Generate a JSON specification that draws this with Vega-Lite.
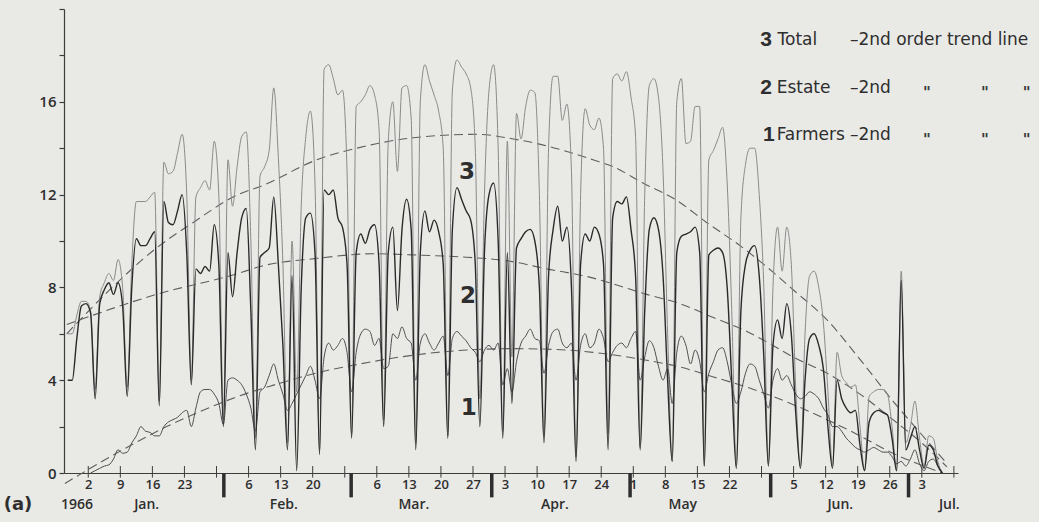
{
  "$schema": "https://vega.github.io/schema/vega-lite/v6.json",
  "width": 894,
  "height": 464,
  "autosize": {"type": "none"},
  "padding": {"left": 64, "top": 9, "right": 81, "bottom": 49},
  "background": "#e9e9e6",
  "config": {"view": {"stroke": null}, "font": "DejaVu Sans"},
  "resolve": {"axis": {"x": "independent", "y": "independent"}},
  "datasets": {
    "daily": [
      {"d":-3,"t":6.0,"e":4.0},{"d":-2,"t":6.0,"e":4.0},{"d":-1,"t":6.8,"e":5.8},{"d":0,"t":7.4,"e":7.2},{"d":1,"t":7.4,"e":7.3},
      {"d":2,"t":7.0,"e":6.9,"f":0.0},{"d":3,"t":3.6,"e":3.2,"f":0.1},{"d":4,"t":7.6,"e":7.3,"f":0.2},{"d":5,"t":8.2,"e":7.9,"f":0.3},{"d":6,"t":8.6,"e":8.2,"f":0.35},{"d":7,"t":8.3,"e":7.7,"f":0.6},{"d":8,"t":9.2,"e":8.2,"f":1.0},{"d":9,"t":8.0,"e":7.2,"f":0.85},
      {"d":10,"t":3.7,"e":3.3,"f":0.9},{"d":11,"t":9.0,"e":8.0,"f":1.3},{"d":12,"t":11.7,"e":10.1,"f":1.6},{"d":13,"t":11.7,"e":9.8,"f":2.0},{"d":14,"t":11.7,"e":9.8,"f":1.8},{"d":15,"t":11.9,"e":10.1,"f":1.75},{"d":16,"t":12.1,"e":10.4,"f":1.6},
      {"d":17,"t":3.1,"e":2.9,"f":1.6},{"d":18,"t":13.4,"e":11.7,"f":2.0},{"d":19,"t":12.9,"e":10.8,"f":2.2},{"d":20,"t":13.0,"e":10.7,"f":2.3},{"d":21,"t":13.8,"e":11.3,"f":2.4},{"d":22,"t":14.6,"e":12.0,"f":2.6},{"d":23,"t":12.0,"e":9.5,"f":2.7},
      {"d":24,"t":4.0,"e":3.8,"f":2.0},{"d":25,"t":11.9,"e":8.8,"f":2.8},{"d":26,"t":12.3,"e":8.6,"f":3.5},{"d":27,"t":12.6,"e":8.9,"f":3.6},{"d":28,"t":12.2,"e":8.7,"f":3.6},{"d":29,"t":14.3,"e":10.7,"f":3.4},{"d":30,"t":12.0,"e":9.0,"f":3.0},
      {"d":31,"t":2.3,"e":2.0,"f":2.1},{"d":32,"t":13.5,"e":9.5,"f":4.0},{"d":33,"t":11.5,"e":7.6,"f":4.1},{"d":34,"t":13.2,"e":9.5,"f":4.0},{"d":35,"t":14.5,"e":11.0,"f":3.8},{"d":36,"t":14.7,"e":11.4,"f":3.4},{"d":37,"t":10.0,"e":7.0,"f":2.8},
      {"d":38,"t":1.5,"e":1.0,"f":1.8},{"d":39,"t":12.8,"e":9.3,"f":3.5},{"d":40,"t":13.2,"e":9.5,"f":3.7},{"d":41,"t":13.9,"e":9.7,"f":4.2},{"d":42,"t":16.6,"e":11.9,"f":4.7},{"d":43,"t":13.6,"e":9.0,"f":4.0},{"d":44,"t":9.0,"e":5.5,"f":3.4},
      {"d":45,"t":1.3,"e":1.0,"f":2.7},{"d":46,"t":10.0,"e":8.5,"f":3.0},{"d":47,"t":3.5,"e":0.1,"f":3.4},{"d":48,"t":11.5,"e":8.0,"f":3.8},{"d":49,"t":14.5,"e":11.0,"f":4.2},{"d":50,"t":15.6,"e":11.2,"f":4.6},{"d":51,"t":12.5,"e":9.5,"f":4.0},
      {"d":52,"t":1.0,"e":0.8,"f":3.2},{"d":53,"t":17.4,"e":12.2,"f":5.0},{"d":54,"t":17.6,"e":12.0,"f":5.6},{"d":55,"t":17.0,"e":12.2,"f":5.3},{"d":56,"t":16.3,"e":11.0,"f":5.5},{"d":57,"t":16.5,"e":10.6,"f":5.8},{"d":58,"t":13.0,"e":9.0,"f":5.2},
      {"d":59,"t":1.7,"e":1.5,"f":3.5},{"d":60,"t":15.8,"e":9.5,"f":5.2},{"d":61,"t":16.0,"e":10.3,"f":6.0},{"d":62,"t":16.3,"e":9.9,"f":6.2},{"d":63,"t":16.7,"e":10.5,"f":6.1},{"d":64,"t":16.3,"e":10.7,"f":5.5},{"d":65,"t":14.8,"e":9.0,"f":5.8},
      {"d":66,"t":2.3,"e":2.0,"f":4.5},{"d":67,"t":14.3,"e":9.5,"f":4.6},{"d":68,"t":16.0,"e":10.6,"f":6.0},{"d":69,"t":13.0,"e":7.0,"f":5.8},{"d":70,"t":16.6,"e":10.5,"f":6.3},{"d":71,"t":16.7,"e":11.8,"f":5.8},{"d":72,"t":15.3,"e":10.5,"f":5.6},
      {"d":73,"t":1.3,"e":1.0,"f":4.0},{"d":74,"t":16.0,"e":9.5,"f":5.6},{"d":75,"t":17.6,"e":11.3,"f":6.0},{"d":76,"t":16.9,"e":10.4,"f":5.6},{"d":77,"t":16.3,"e":10.9,"f":5.3},{"d":78,"t":15.6,"e":10.4,"f":5.6},{"d":79,"t":14.0,"e":9.0,"f":5.9},
      {"d":80,"t":1.6,"e":1.5,"f":4.2},{"d":81,"t":16.5,"e":10.5,"f":5.8},{"d":82,"t":17.8,"e":12.3,"f":6.1},{"d":83,"t":17.5,"e":11.8,"f":5.9},{"d":84,"t":17.2,"e":11.3,"f":5.7},{"d":85,"t":16.6,"e":10.9,"f":5.4},{"d":86,"t":14.0,"e":9.0,"f":5.2},
      {"d":87,"t":3.2,"e":2.0,"f":4.8},{"d":88,"t":12.0,"e":9.5,"f":5.3},{"d":89,"t":16.5,"e":12.0,"f":5.5},{"d":90,"t":17.6,"e":12.5,"f":5.3},{"d":91,"t":14.0,"e":10.0,"f":5.6},{"d":92,"t":1.8,"e":1.5,"f":3.8},{"d":93,"t":14.3,"e":9.5,"f":4.5},
      {"d":94,"t":5.0,"e":3.0,"f":3.5},{"d":95,"t":15.5,"e":9.7,"f":4.8},{"d":96,"t":14.4,"e":10.1,"f":5.6},{"d":97,"t":15.8,"e":10.4,"f":5.9},{"d":98,"t":16.5,"e":10.5,"f":6.2},{"d":99,"t":16.4,"e":10.0,"f":5.8},{"d":100,"t":12.0,"e":8.0,"f":5.7},
      {"d":101,"t":1.6,"e":1.3,"f":4.3},{"d":102,"t":14.0,"e":8.5,"f":5.5},{"d":103,"t":17.1,"e":10.5,"f":6.1},{"d":104,"t":17.1,"e":11.5,"f":6.2},{"d":105,"t":15.2,"e":10.0,"f":5.6},{"d":106,"t":15.9,"e":10.6,"f":5.4},{"d":107,"t":13.0,"e":8.0,"f":5.6},
      {"d":108,"t":0.7,"e":0.5,"f":4.0},{"d":109,"t":12.0,"e":9.0,"f":5.5},{"d":110,"t":15.7,"e":10.3,"f":6.0},{"d":111,"t":15.0,"e":10.0,"f":5.4},{"d":112,"t":14.8,"e":10.6,"f":5.6},{"d":113,"t":15.3,"e":10.3,"f":6.2},{"d":114,"t":14.0,"e":9.0,"f":5.8},
      {"d":115,"t":1.7,"e":1.0,"f":4.8},{"d":116,"t":17.0,"e":11.0,"f":5.2},{"d":117,"t":17.2,"e":11.7,"f":5.5},{"d":118,"t":16.9,"e":11.6,"f":5.6},{"d":119,"t":17.3,"e":11.9,"f":5.4},{"d":120,"t":16.2,"e":10.5,"f":5.8},{"d":121,"t":14.5,"e":8.5,"f":6.1},
      {"d":122,"t":1.1,"e":1.0,"f":4.0},{"d":123,"t":12.0,"e":7.0,"f":5.0},{"d":124,"t":16.7,"e":10.5,"f":5.7},{"d":125,"t":17.0,"e":11.0,"f":5.4},{"d":126,"t":16.2,"e":10.5,"f":4.6},{"d":127,"t":13.0,"e":8.5,"f":4.0},{"d":128,"t":6.0,"e":4.0,"f":4.5},
      {"d":129,"t":0.5,"e":0.5,"f":3.0},{"d":130,"t":16.0,"e":9.5,"f":5.2},{"d":131,"t":17.0,"e":10.2,"f":5.9},{"d":132,"t":14.2,"e":10.3,"f":5.5},{"d":133,"t":14.3,"e":10.4,"f":4.7},{"d":134,"t":15.8,"e":10.6,"f":5.3},{"d":135,"t":15.8,"e":9.5,"f":4.8},
      {"d":136,"t":0.3,"e":0.3,"f":3.5},{"d":137,"t":13.5,"e":9.4,"f":4.3},{"d":138,"t":13.9,"e":9.6,"f":4.8},{"d":139,"t":14.4,"e":9.7,"f":5.3},{"d":140,"t":14.9,"e":9.5,"f":5.4},{"d":141,"t":12.5,"e":8.0,"f":4.8},{"d":142,"t":7.0,"e":4.0,"f":3.8},
      {"d":143,"t":0.3,"e":0.2,"f":3.0},{"d":144,"t":11.0,"e":7.0,"f":3.5},{"d":145,"t":13.3,"e":9.0,"f":4.3},{"d":146,"t":14.0,"e":9.6,"f":4.7},{"d":147,"t":14.0,"e":9.8,"f":4.6},{"d":148,"t":12.0,"e":8.5,"f":4.0},{"d":149,"t":8.0,"e":5.0,"f":3.4},
      {"d":150,"t":0.4,"e":0.3,"f":2.8},{"d":151,"t":8.0,"e":5.5,"f":4.0},{"d":152,"t":10.6,"e":6.6,"f":4.5},{"d":153,"t":8.7,"e":5.8,"f":4.0},{"d":154,"t":10.6,"e":7.3,"f":4.2},{"d":155,"t":9.0,"e":6.0,"f":3.8},{"d":156,"t":3.5,"e":2.5,"f":3.4},
      {"d":157,"t":0.3,"e":0.2,"f":3.2},{"d":158,"t":6.0,"e":4.0,"f":3.3},{"d":159,"t":8.5,"e":5.8,"f":3.5},{"d":160,"t":8.7,"e":6.0,"f":3.4},{"d":161,"t":8.0,"e":5.5,"f":3.2},{"d":162,"t":6.5,"e":4.5,"f":2.8},{"d":163,"t":3.5,"e":2.0,"f":2.5},
      {"d":164,"t":0.3,"e":0.2,"f":2.0},{"d":165,"t":5.2,"e":4.0,"f":2.0},{"d":166,"t":4.2,"e":3.2,"f":1.8},{"d":167,"t":3.9,"e":2.8,"f":1.5},{"d":168,"t":3.7,"e":2.6,"f":1.3},{"d":169,"t":3.8,"e":2.7,"f":1.1},{"d":170,"t":2.0,"e":1.2,"f":1.0},
      {"d":171,"t":0.1,"e":0.1,"f":0.9},{"d":172,"t":3.3,"e":2.2,"f":1.0},{"d":173,"t":3.5,"e":2.6,"f":1.1},{"d":174,"t":3.6,"e":2.7,"f":1.0},{"d":175,"t":3.6,"e":2.6,"f":0.9},{"d":176,"t":3.4,"e":2.5,"f":0.9},{"d":177,"t":2.0,"e":1.5,"f":0.7},
      {"d":178,"t":0.1,"e":0.1,"f":0.4},{"d":179,"t":8.7,"e":8.3,"f":0.5},{"d":180,"t":1.3,"e":1.0,"f":0.3},{"d":181,"t":2.0,"e":1.5,"f":0.6},{"d":182,"t":3.1,"e":2.0,"f":1.0},{"d":183,"t":1.5,"e":1.0,"f":0.4},{"d":184,"t":0.3,"e":0.2,"f":0.1},
      {"d":185,"t":1.6,"e":1.2,"f":0.5},{"d":186,"t":1.5,"e":1.0,"f":0.6},{"d":187,"t":0.5,"e":0.3,"f":0.3},{"d":188,"t":0.0,"e":0.0,"f":0.0}
    ],
    "trends": [
      {"s":"T","d":-3.2,"v":6.0},{"s":"T","d":6.2,"v":7.9},{"s":"T","d":16.4,"v":9.7},{"s":"T","d":24.4,"v":10.8},{"s":"T","d":34.2,"v":12.0},{"s":"T","d":39.7,"v":12.4},{"s":"T","d":51.4,"v":13.5},{"s":"T","d":60.1,"v":14.0},{"s":"T","d":72.5,"v":14.45},{"s":"T","d":86.3,"v":14.6},{"s":"T","d":94.3,"v":14.4},{"s":"T","d":101.6,"v":14.1},{"s":"T","d":111.7,"v":13.5},{"s":"T","d":116.1,"v":13.2},{"s":"T","d":122.6,"v":12.5},{"s":"T","d":130,"v":11.75},{"s":"T","d":136.5,"v":10.8},{"s":"T","d":143.8,"v":9.8},{"s":"T","d":151,"v":8.66},{"s":"T","d":155.4,"v":7.9},{"s":"T","d":162.8,"v":6.6},{"s":"T","d":170,"v":4.9},{"s":"T","d":177.2,"v":3.1},{"s":"T","d":184.6,"v":1.4},{"s":"T","d":189,"v":0.4},
      {"s":"E","d":-3.2,"v":6.4},{"s":"E","d":16.4,"v":7.7},{"s":"E","d":34.2,"v":8.6},{"s":"E","d":39,"v":8.9},{"s":"E","d":51.4,"v":9.25},{"s":"E","d":63.7,"v":9.45},{"s":"E","d":72.4,"v":9.4},{"s":"E","d":84.1,"v":9.3},{"s":"E","d":92.9,"v":9.15},{"s":"E","d":101.6,"v":8.8},{"s":"E","d":111.8,"v":8.4},{"s":"E","d":116.1,"v":8.15},{"s":"E","d":123.4,"v":7.7},{"s":"E","d":130.7,"v":7.3},{"s":"E","d":138,"v":6.7},{"s":"E","d":145.3,"v":6.1},{"s":"E","d":151,"v":5.5},{"s":"E","d":155.4,"v":5.0},{"s":"E","d":162.8,"v":4.3},{"s":"E","d":170,"v":3.4},{"s":"E","d":177.2,"v":2.3},{"s":"E","d":184.6,"v":1.1},{"s":"E","d":189,"v":0.26},
      {"s":"F","d":-3.6,"v":-0.45},{"s":"F","d":4.1,"v":0.45},{"s":"F","d":11.3,"v":1.25},{"s":"F","d":18.6,"v":2.0},{"s":"F","d":25.9,"v":2.65},{"s":"F","d":34.2,"v":3.3},{"s":"F","d":43,"v":3.85},{"s":"F","d":52.1,"v":4.35},{"s":"F","d":60.8,"v":4.7},{"s":"F","d":69.6,"v":5.0},{"s":"F","d":84.1,"v":5.3},{"s":"F","d":94.3,"v":5.36},{"s":"F","d":106,"v":5.3},{"s":"F","d":111.7,"v":5.2},{"s":"F","d":123.4,"v":4.86},{"s":"F","d":130.7,"v":4.57},{"s":"F","d":138,"v":4.14},{"s":"F","d":145.3,"v":3.7},{"s":"F","d":151,"v":3.3},{"s":"F","d":162.8,"v":2.3},{"s":"F","d":170,"v":1.6},{"s":"F","d":177.2,"v":0.85},{"s":"F","d":184.6,"v":0.25},{"s":"F","d":188,"v":0.0}
    ],
    "weeks": [
      {"w":1.5},{"w":8.5},{"w":15.5},{"w":22.5},{"w":29.5},{"w":36.5},{"w":43.5},{"w":50.5},{"w":57.5},{"w":64.5},{"w":71.5},{"w":78.5},{"w":85.5},{"w":92.5},
      {"w":99.5},{"w":106.5},{"w":113.5},{"w":120.5},{"w":127.5},{"w":134.5},{"w":141.5},{"w":148.5},{"w":155.5},{"w":162.5},{"w":169.5},{"w":176.5},{"w":183.5},{"w":190.5}
    ],
    "months": [{"m":31.1},{"m":58.9},{"m":89.6},{"m":119.8},{"m":150.5},{"m":180.6}],
    "monthLabels": [
      {"x":-0.97,"label":"1966"},{"x":14.25,"label":"Jan."},{"x":44.2,"label":"Feb."},{"x":72.6,"label":"Mar."},{"x":103.4,"label":"Apr."},{"x":131.3,"label":"May"},{"x":165.7,"label":"Jun."},{"x":189.5,"label":"Jul."}
    ]
  },
  "layer": [
    {
      "data": {"name": "trends"},
      "mark": {"type": "line", "interpolate": "monotone", "strokeDash": [9, 5], "strokeWidth": 1.1, "color": "#5e5e5e"},
      "encoding": {
        "x": {"field": "d", "type": "quantitative", "scale": {"domain": [-3.8, 191.4], "nice": false, "zero": false},
          "axis": {"title": null, "values": [1.5,8.5,15.5,22.5,29.5,36.5,43.5,50.5,57.5,64.5,71.5,78.5,85.5,92.5,99.5,106.5,113.5,120.5,127.5,134.5,141.5,148.5,155.5,162.5,169.5,176.5,183.5,190.5],
            "labelExpr": "['2','9','16','23','','6','13','20','','6','13','20','27','3','10','17','24','1','8','15','22','','5','12','19','26','3',''][round((datum.value - 1.5) / 7)]",
            "ticks": false, "grid": false, "domainColor": "#3d3d3d", "domainWidth": 1.2, "labelFont": "Open Sans", "labelFontWeight": 600, "labelFontSize": 13, "labelColor": "#2e2e2e", "labelPadding": 5, "labelOverlap": false, "labelFlush": false, "labelBound": false}},
        "y": {"field": "v", "type": "quantitative", "scale": {"domain": [0, 20], "nice": false, "zero": false},
          "axis": {"title": null, "values": [0,2,4,6,8,10,12,14,16,18,20], "labelExpr": "datum.value % 4 == 0 && datum.value < 20 ? datum.label : ''",
            "tickSize": 5, "tickColor": "#3d3d3d", "tickWidth": 1.2, "domainColor": "#3d3d3d", "domainWidth": 1.2, "grid": false, "labelFont": "Open Sans", "labelFontWeight": 600, "labelFontSize": 15, "labelColor": "#2e2e2e", "labelPadding": 3, "labelOverlap": false, "labelFlush": false}},
        "detail": {"field": "s"}
      }
    },
    {
      "data": {"name": "daily"},
      "mark": {"type": "line", "interpolate": "monotone", "strokeWidth": 1, "color": "#8a8a8a"},
      "encoding": {
        "x": {"field": "d", "type": "quantitative", "scale": {"domain": [-3.8, 191.4], "nice": false, "zero": false}, "axis": null},
        "y": {"field": "t", "type": "quantitative", "scale": {"domain": [0, 20], "nice": false, "zero": false}, "axis": null}
      }
    },
    {
      "data": {"name": "daily"},
      "mark": {"type": "line", "interpolate": "monotone", "strokeWidth": 1, "color": "#4e4e4e"},
      "encoding": {
        "x": {"field": "d", "type": "quantitative", "scale": {"domain": [-3.8, 191.4], "nice": false, "zero": false}, "axis": null},
        "y": {"field": "f", "type": "quantitative", "scale": {"domain": [0, 20], "nice": false, "zero": false}, "axis": null}
      }
    },
    {
      "data": {"name": "daily"},
      "mark": {"type": "line", "interpolate": "monotone", "strokeWidth": 1.4, "color": "#2a2a2a"},
      "encoding": {
        "x": {"field": "d", "type": "quantitative", "scale": {"domain": [-3.8, 191.4], "nice": false, "zero": false}, "axis": null},
        "y": {"field": "e", "type": "quantitative", "scale": {"domain": [0, 20], "nice": false, "zero": false}, "axis": null}
      }
    },
    {
      "data": {"name": "weeks"},
      "mark": {"type": "rule", "strokeWidth": 1, "color": "#3d3d3d"},
      "encoding": {
        "x": {"field": "w", "type": "quantitative", "scale": {"domain": [-3.8, 191.4], "nice": false, "zero": false}, "axis": null},
        "y": {"datum": -0.2, "type": "quantitative", "scale": {"domain": [0, 20], "nice": false, "zero": false}, "axis": null},
        "y2": {"datum": 0.3}
      }
    },
    {
      "data": {"name": "months"},
      "mark": {"type": "rule", "strokeWidth": 3.5, "color": "#2e2e2e"},
      "encoding": {
        "x": {"field": "m", "type": "quantitative", "scale": {"domain": [-3.8, 191.4], "nice": false, "zero": false}, "axis": null},
        "y": {"datum": 0, "type": "quantitative", "scale": {"domain": [0, 20], "nice": false, "zero": false}, "axis": null},
        "y2": {"datum": -1.05}
      }
    },
    {
      "data": {"name": "monthLabels"},
      "mark": {"type": "text", "font": "Open Sans", "fontWeight": 600, "fontSize": 14, "color": "#2e2e2e", "align": "center", "baseline": "middle"},
      "encoding": {
        "x": {"field": "x", "type": "quantitative", "scale": {"domain": [-3.8, 191.4], "nice": false, "zero": false}, "axis": null},
        "y": {"datum": -1.4, "type": "quantitative", "scale": {"domain": [0, 20], "nice": false, "zero": false}, "axis": null},
        "text": {"field": "label"}
      }
    },
    {
      "data": {"values": [{"x": -13.85, "label": "(a)"}]},
      "mark": {"type": "text", "font": "DejaVu Sans", "fontSize": 18, "fontWeight": "bold", "color": "#2e2e2e", "align": "center", "baseline": "middle"},
      "encoding": {
        "x": {"field": "x", "type": "quantitative", "scale": {"domain": [-3.8, 191.4], "nice": false, "zero": false}, "axis": null},
        "y": {"datum": -1.4, "type": "quantitative", "scale": {"domain": [0, 20], "nice": false, "zero": false}, "axis": null},
        "text": {"field": "label"}
      }
    },
    {
      "data": {"values": [{"x": 84.2, "y": 12.96, "label": "3"}, {"x": 84.4, "y": 7.65, "label": "2"}, {"x": 84.6, "y": 2.8, "label": "1"}]},
      "mark": {"type": "text", "font": "DejaVu Sans", "fontSize": 23, "fontWeight": "bold", "color": "#2e2e2e", "align": "center", "baseline": "middle"},
      "encoding": {
        "x": {"field": "x", "type": "quantitative", "scale": {"domain": [-3.8, 191.4], "nice": false, "zero": false}, "axis": null},
        "y": {"field": "y", "type": "quantitative", "scale": {"domain": [0, 20], "nice": false, "zero": false}, "axis": null},
        "text": {"field": "label"}
      }
    },
    {
      "data": {"values": [{"x": 148.2, "y": 18.65, "label": "3"}, {"x": 148.2, "y": 16.58, "label": "2"}, {"x": 148.8, "y": 14.55, "label": "1"}]},
      "mark": {"type": "text", "font": "Liberation Sans", "fontSize": 21, "fontWeight": "bold", "color": "#2e2e2e", "align": "left", "baseline": "middle"},
      "encoding": {
        "x": {"field": "x", "type": "quantitative", "scale": {"domain": [-3.8, 191.4], "nice": false, "zero": false}, "axis": null},
        "y": {"field": "y", "type": "quantitative", "scale": {"domain": [0, 20], "nice": false, "zero": false}, "axis": null},
        "text": {"field": "label"}
      }
    },
    {
      "data": {"values": [{"x": 152.0, "y": 18.65, "label": "Total"}, {"x": 151.8, "y": 16.58, "label": "Estate"}, {"x": 151.8, "y": 14.55, "label": "Farmers"},
        {"x": 167.8, "y": 18.65, "label": "–2nd order trend line"}, {"x": 167.8, "y": 16.58, "label": "–2nd"}, {"x": 167.8, "y": 14.55, "label": "–2nd"}]},
      "mark": {"type": "text", "font": "DejaVu Sans", "fontSize": 17, "color": "#2e2e2e", "align": "left", "baseline": "middle"},
      "encoding": {
        "x": {"field": "x", "type": "quantitative", "scale": {"domain": [-3.8, 191.4], "nice": false, "zero": false}, "axis": null},
        "y": {"field": "y", "type": "quantitative", "scale": {"domain": [0, 20], "nice": false, "zero": false}, "axis": null},
        "text": {"field": "label"}
      }
    },
    {
      "data": {"values": [{"x": 184.6, "y": 16.58, "label": "\""}, {"x": 197.3, "y": 16.58, "label": "\""}, {"x": 206.4, "y": 16.58, "label": "\""}, {"x": 184.6, "y": 14.55, "label": "\""}, {"x": 197.3, "y": 14.55, "label": "\""}, {"x": 206.4, "y": 14.55, "label": "\""}]},
      "mark": {"type": "text", "font": "DejaVu Sans", "fontSize": 15, "fontWeight": "bold", "color": "#3a3a3a", "align": "center", "baseline": "middle", "dy": 5},
      "encoding": {
        "x": {"field": "x", "type": "quantitative", "scale": {"domain": [-3.8, 191.4], "nice": false, "zero": false}, "axis": null},
        "y": {"field": "y", "type": "quantitative", "scale": {"domain": [0, 20], "nice": false, "zero": false}, "axis": null},
        "text": {"field": "label"}
      }
    }
  ]
}
